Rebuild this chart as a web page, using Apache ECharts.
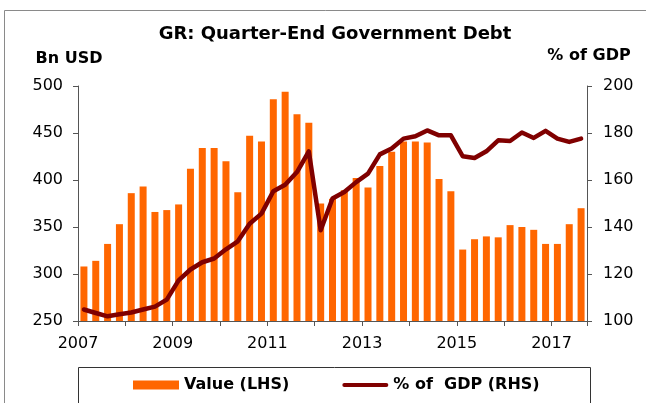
<!DOCTYPE html>
<html>
<head>
<meta charset="utf-8">
<script src="https://cdn.jsdelivr.net/npm/echarts@6/dist/echarts.min.js"></script>
<style>
  html, body { margin: 0; padding: 0; background: #fff; }
  #chart { width: 646px; height: 403px; }
</style>
</head>
<body>
<div id="chart"></div>
<script>
// quarters 2007Q1 .. 2017Q3
const quarters = [
  '2007Q1','2007Q2','2007Q3','2007Q4','2008Q1','2008Q2','2008Q3','2008Q4',
  '2009Q1','2009Q2','2009Q3','2009Q4','2010Q1','2010Q2','2010Q3','2010Q4',
  '2011Q1','2011Q2','2011Q3','2011Q4','2012Q1','2012Q2','2012Q3','2012Q4',
  '2013Q1','2013Q2','2013Q3','2013Q4','2014Q1','2014Q2','2014Q3','2014Q4',
  '2015Q1','2015Q2','2015Q3','2015Q4','2016Q1','2016Q2','2016Q3','2016Q4',
  '2017Q1','2017Q2','2017Q3'
]
// Value (LHS), Bn USD
const debtBn = [
  308, 314, 332, 353, 386, 393, 366, 368,
  374, 412, 434, 434, 420, 387, 447, 441,
  486, 494, 470, 461, 375, 380, 389, 402,
  392, 415, 430, 441, 441, 440, 401, 388,
  326, 337, 340, 339, 352, 350, 347, 332,
  332, 353, 370
]
// % of GDP (RHS)
const debtPct = [
  104.9, 103.4, 102.0, 102.9, 103.6, 104.9, 106.1, 109.1,
  117.3, 121.9, 125.0, 126.6, 130.5, 133.9, 141.4, 145.7,
  155.2, 158.0, 163.4, 172.2, 138.6, 152.1, 154.9, 159.1,
  162.7, 170.9, 173.4, 177.6, 178.6, 181.1, 179.0, 179.0,
  170.1, 169.4, 172.2, 176.9, 176.6, 180.2, 177.9, 180.9,
  177.6, 176.2, 177.6
]
const leftTicks = [250, 300, 350, 400, 450, 500]
const rightTicks = [100, 120, 140, 160, 180, 200]

const FONT = '"DejaVu Sans", "Liberation Sans", Arial, sans-serif'

// quarter label -> position on a year scale (mid-quarter)
const qPos = q => Number(q.slice(0, 4)) + (Number(q.slice(5)) - 1) / 4 + 0.125

const chart = echarts.init(document.getElementById('chart'))

const option = {
  animation: false,
  backgroundColor: '#fff',
  textStyle: { fontFamily: FONT },
  graphic: [
    {
      type: 'rect',
      shape: { x: 4.5, y: 10.5, width: 700, height: 500 },
      style: { fill: 'none', stroke: '#8a8a8a', lineWidth: 1 },
      silent: true
    },
    {
      type: 'rect',
      shape: { x: 78.5, y: 367.5, width: 512, height: 60 },
      style: { fill: 'none', stroke: '#333', lineWidth: 1 },
      silent: true
    },
    {
      type: 'text',
      style: {
        text: 'GR: Quarter-End Government Debt',
        x: 335, y: 34, align: 'center', verticalAlign: 'middle',
        font: 'bold 18px ' + FONT, fill: '#000'
      }
    },
    {
      type: 'text',
      style: {
        text: 'Bn USD', x: 69, y: 59, align: 'center', verticalAlign: 'middle',
        font: 'bold 16px ' + FONT, fill: '#000'
      }
    },
    {
      type: 'text',
      style: {
        text: '% of GDP', x: 589, y: 56, align: 'center', verticalAlign: 'middle',
        font: 'bold 16px ' + FONT, fill: '#000'
      }
    }
  ],
  legend: {
    left: 133,
    top: 377,
    padding: 0,
    itemWidth: 46,
    itemHeight: 9,
    itemGap: 53,
    textStyle: { fontFamily: FONT, fontSize: 16, fontWeight: 'bold', color: '#000' },
    data: [
      { name: 'Value (LHS)', icon: 'rect' },
      { name: '% of  GDP (RHS)', icon: 'path://M2,0 L44,0 A2,2 0 0 1 44,4 L2,4 A2,2 0 0 1 2,0 Z' }
    ]
  },
  grid: { left: 78, right: 59, top: 86, bottom: 82 },
  xAxis: {
    type: 'value',
    min: 2007,
    max: 2017.75,
    interval: 1,
    splitLine: { show: false },
    axisLine: { lineStyle: { color: '#555', width: 1 } },
    axisTick: { length: 5, lineStyle: { color: '#555' } },
    axisLabel: {
      color: '#000', fontSize: 16, margin: 15, fontFamily: FONT,
      formatter: v => (Number.isInteger(v) && v % 2 === 1) ? String(v) : ''
    }
  },
  yAxis: [
    {
      type: 'value',
      min: leftTicks[0],
      max: leftTicks[leftTicks.length - 1],
      interval: 50,
      splitLine: { show: false },
      axisLine: { show: true, lineStyle: { color: '#555' } },
      axisTick: { show: true, length: 5, lineStyle: { color: '#555' } },
      axisLabel: { color: '#000', fontSize: 16, margin: 15, fontFamily: FONT }
    },
    {
      type: 'value',
      min: rightTicks[0],
      max: rightTicks[rightTicks.length - 1],
      interval: 20,
      position: 'right',
      splitLine: { show: false },
      axisLine: { show: true, lineStyle: { color: '#555' } },
      axisTick: { show: true, length: 5, lineStyle: { color: '#555' } },
      axisLabel: { color: '#000', fontSize: 16, margin: 16, fontFamily: FONT }
    }
  ],
  series: [
    {
      name: 'Value (LHS)',
      type: 'bar',
      barWidth: 7,
      itemStyle: { color: '#ff6600' },
      data: quarters.map((q, i) => [qPos(q), debtBn[i]])
    },
    {
      name: '% of  GDP (RHS)',
      type: 'line',
      yAxisIndex: 1,
      symbol: 'none',
      lineStyle: { color: '#800000', width: 4.5, join: 'round', cap: 'round' },
      itemStyle: { color: '#800000' },
      data: quarters.map((q, i) => [qPos(q), debtPct[i]])
    }
  ]
}

chart.setOption(option)
</script>
</body>
</html>
